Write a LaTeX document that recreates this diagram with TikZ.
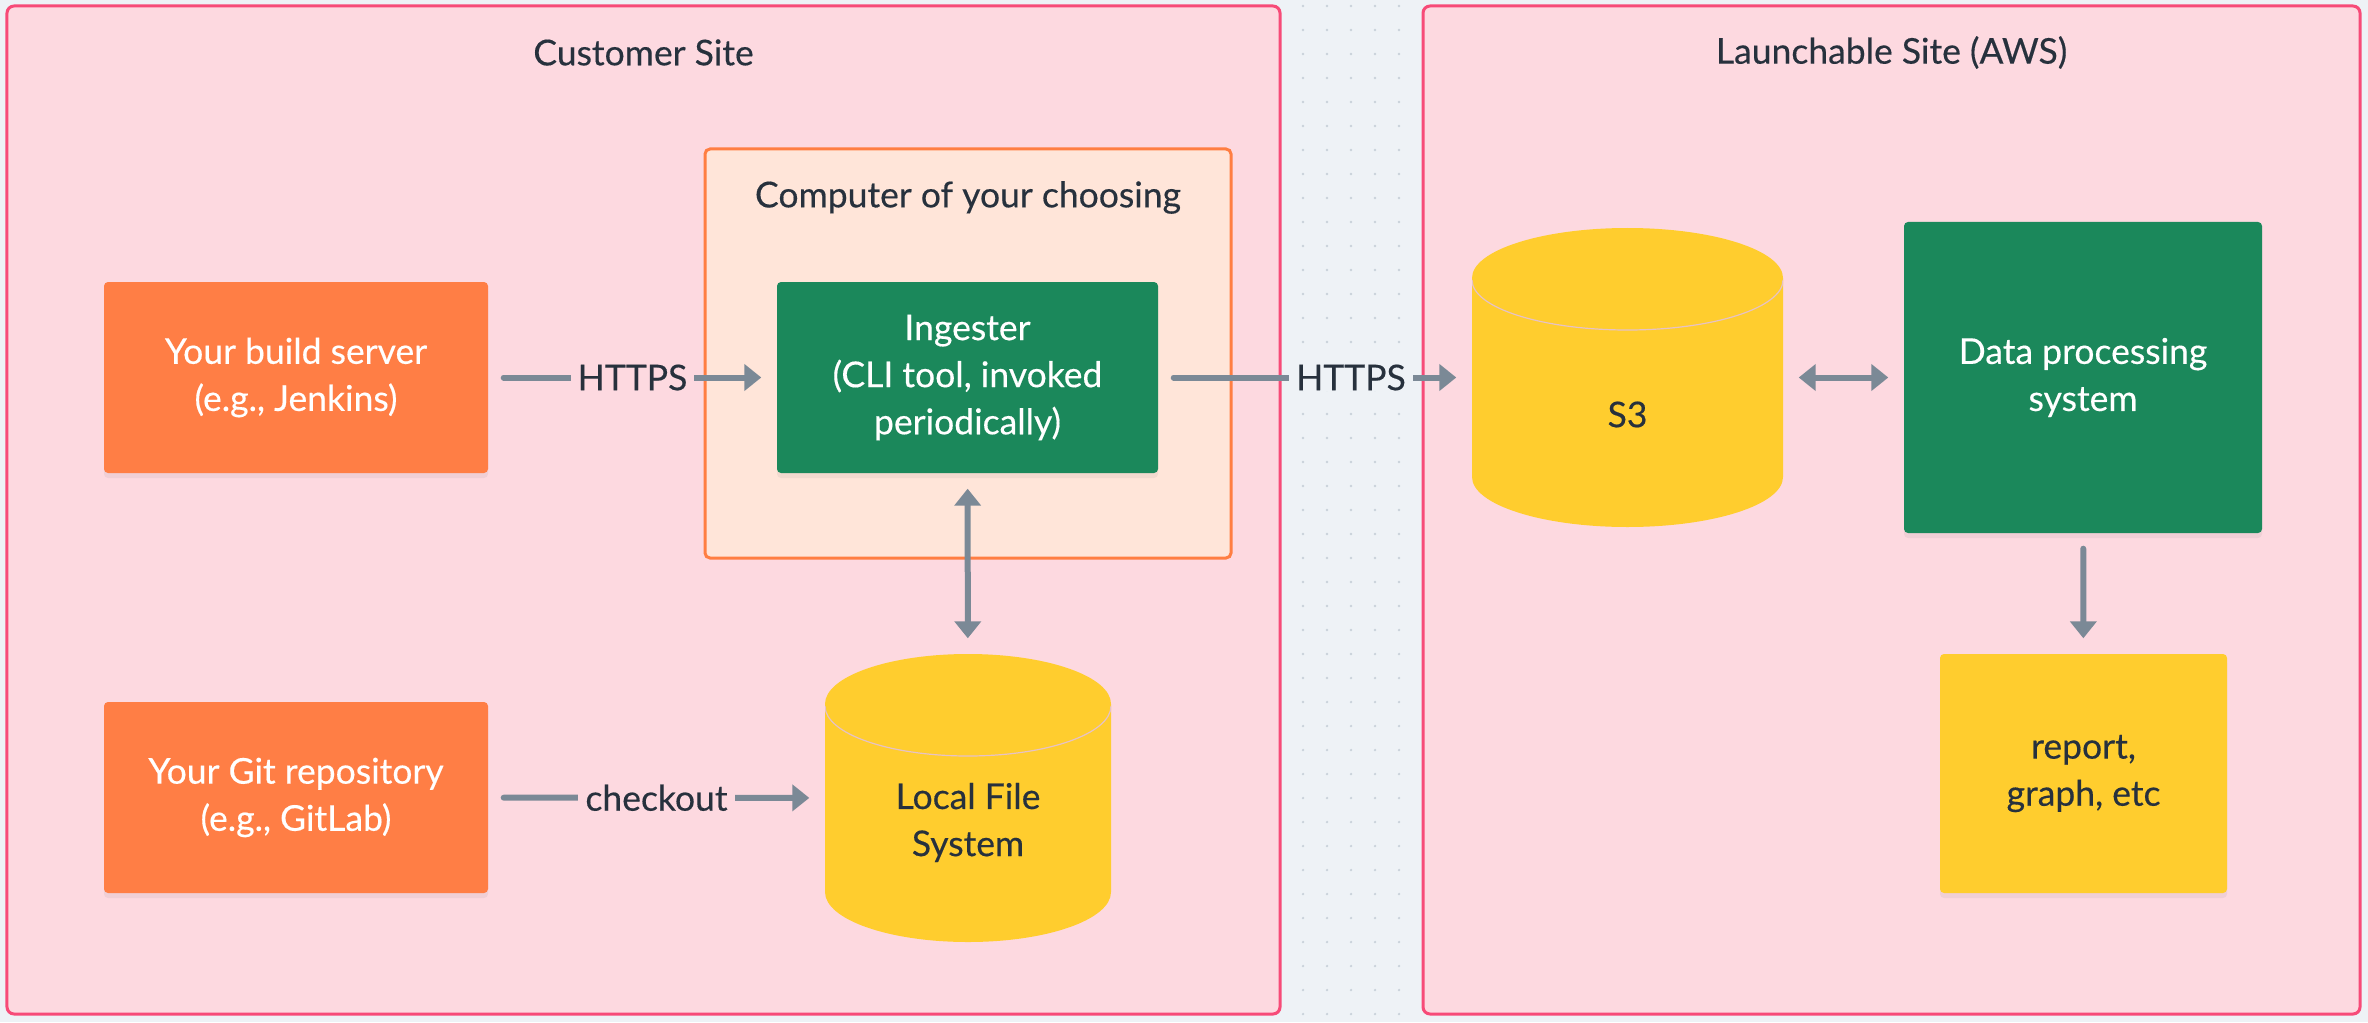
\documentclass[tikz,border=0pt]{standalone}
\usepackage{fontspec}
\setmainfont{Lato}[FakeBold=0.35]
\usetikzlibrary{arrows.meta,shadows,calc}

\definecolor{canvas}{HTML}{EEF2F6}
\definecolor{dotgray}{HTML}{C9D1DA}
\definecolor{sitepink}{HTML}{FDD9E0}
\definecolor{sitered}{HTML}{F74B78}
\definecolor{hostfill}{HTML}{FFE5D9}
\definecolor{hostline}{HTML}{FF7E42}
\definecolor{boxorange}{HTML}{FF7E45}
\definecolor{boxgreen}{HTML}{1B885B}
\definecolor{boxyellow}{HTML}{FFCD2E}
\definecolor{drumline}{HTML}{E6C2C6}
\definecolor{arrowgray}{HTML}{7B8996}
\definecolor{ink}{HTML}{27313D}

\begin{document}
\begin{tikzpicture}[
  font=\fontsize{10.1}{13.4}\selectfont, text=ink,
  >={Triangle[length=0.17cm,width=0.26cm]},
  site/.style={draw=sitered, line width=0.03cm, fill=sitepink, rounded corners=0.07cm, inner sep=0pt},
  host/.style={draw=hostline, line width=0.03cm, fill=hostfill, rounded corners=0.05cm, inner sep=0pt},
  card/.style={rounded corners=0.04cm, align=center, inner sep=0pt,
    drop shadow={opacity=0.10, shadow xshift=0pt, shadow yshift=-0.05cm}},
  orangecard/.style={card, fill=boxorange, text=white},
  greencard/.style={card, fill=boxgreen, text=white},
  yellowcard/.style={card, fill=boxyellow},
  drum/.style={inner sep=0pt, path picture={
    \fill[boxyellow] let \p1=(path picture bounding box.north west),
      \p2=(path picture bounding box.south east), \n1={(\x2-\x1)/2} in
      (\x1,{\y1-0.5cm}) arc[start angle=180, end angle=0, x radius=\n1, y radius=0.5cm]
      -- (\x2,{\y2+0.5cm}) arc[start angle=0, end angle=-180, x radius=\n1, y radius=0.5cm] -- cycle;
    \draw[drumline, line width=0.012cm] let \p1=(path picture bounding box.north west),
      \p2=(path picture bounding box.south east), \n1={(\x2-\x1)/2} in
      (\x1,{\y1-0.52cm}) arc[start angle=180, end angle=360, x radius=\n1, y radius=0.5cm];
  }},
  flow/.style={draw=arrowgray, line width=0.06cm, line cap=round, ->, shorten >=0.15cm, shorten <=0.15cm},
  both/.style={flow, <->},
  tag/.style={inner xsep=0.07cm, inner ysep=0pt, text=ink}
]
\useasboundingbox (0,0) rectangle (23.68,-10.22);
\fill[canvas] (0,0) rectangle (23.68,-10.22);
\foreach \i in {0,...,4}
  \foreach \j in {0,...,42}
    \fill[dotgray] ({13.03+0.24*\i},{-0.06-0.24*\j}) circle (0.013);

\node[site, minimum width=12.73cm, minimum height=10.08cm] (customer) at (6.435,-5.10) {};
\node[site, minimum width=9.37cm, minimum height=10.08cm] (launch) at (18.915,-5.10) {};
\node (customer-title) at ([yshift=-0.48cm]customer.north) {Customer Site};
\node (launch-title) at ([yshift=-0.48cm]launch.north) {Launchable Site (AWS)};

\node[host, minimum width=5.26cm, minimum height=4.09cm] (computer) at (9.68,-3.535) {};
\node (computer-title) at ([yshift=-0.50cm]computer.north) {Computer of your choosing};

\node[orangecard, minimum width=3.84cm, minimum height=1.91cm] (build) at (2.96,-3.775) {Your build server\\(e.g., Jenkins)};
\node[greencard, minimum width=3.81cm, minimum height=1.91cm] (ingester) at (9.675,-3.775) {Ingester\\(CLI tool, invoked\\periodically)};
\node[orangecard, minimum width=3.84cm, minimum height=1.91cm] (git) at (2.96,-7.975) {Your Git repository\\(e.g., GitLab)};
\node[drum, minimum width=2.86cm, minimum height=2.88cm,
  label={[align=center, yshift=-0.245cm]center:{Local File\\System}}] (lfs) at (9.68,-7.98) {};
\node[drum, minimum width=3.11cm, minimum height=2.99cm,
  label={[yshift=-0.37cm]center:S3}] (s3) at (16.275,-3.775) {};
\node[greencard, minimum width=3.58cm, minimum height=3.11cm] (data) at (20.83,-3.775) {Data processing\\system};
\node[yellowcard, minimum width=2.87cm, minimum height=2.39cm] (report) at (20.835,-7.735) {report,\\graph, etc};

\draw[flow] (build) -- node[tag, fill=sitepink] {HTTPS} (ingester);
\draw[flow] (ingester) -- node[tag, fill=canvas, pos=0.615] {HTTPS} (s3);
\draw[flow] (git) -- node[tag, fill=sitepink] {checkout} (lfs);
\draw[both] (ingester) -- (lfs);
\draw[both] (s3) -- (data);
\draw[flow] (data) -- (report);
\end{tikzpicture}
\end{document}
